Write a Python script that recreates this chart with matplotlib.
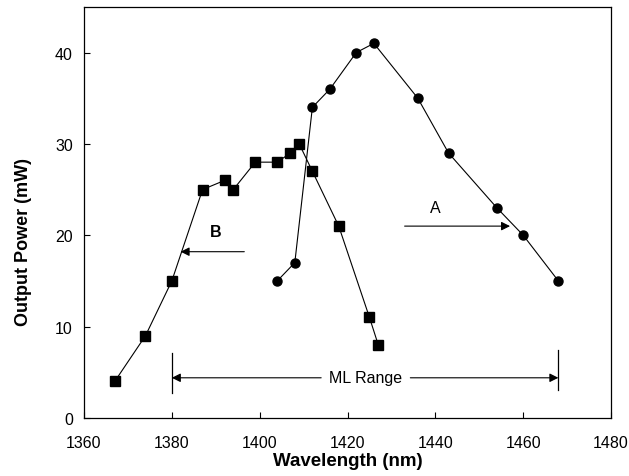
import numpy as np
import matplotlib
matplotlib.use("Agg")
import matplotlib.pyplot as plt

plt.rcParams['font.family'] = ['Liberation Sans', 'DejaVu Sans']

# Series A (circles)
wl_a = [1404, 1408, 1412, 1416, 1422, 1426, 1436, 1443, 1454, 1460, 1468]
pw_a = [15, 17, 34, 36, 40, 41, 35, 29, 23, 20, 15]

# Series B (squares)
wl_b = [1367, 1374, 1380, 1387, 1392, 1394, 1399, 1404, 1407, 1409, 1412, 1418, 1425, 1427]
pw_b = [4, 9, 15, 25, 26, 25, 28, 28, 29, 30, 27, 21, 11, 8]

x_ticks = [1360, 1380, 1400, 1420, 1440, 1460, 1480]
y_ticks = [0, 10, 20, 30, 40]

ml_start, ml_end = 1380, 1468

fig = plt.figure(figsize=(6.29, 4.77), dpi=100)
ax = fig.add_axes([0.1335, 0.1216, 0.838, 0.862])

ax.plot(wl_a, pw_a, color='black', lw=0.8, marker='o', markersize=6.5)
ax.plot(wl_b, pw_b, color='black', lw=0.8, marker='s', markersize=6.5)

ax.set_xlim(1360, 1480)
ax.set_ylim(0, 45)
ax.set_xticks(x_ticks)
ax.set_yticks(y_ticks)
ax.tick_params(direction='in', length=4, width=0.8, labelsize=11.5)
ax.tick_params(axis='x', pad=12)
ax.tick_params(axis='y', pad=8)
for s in ax.spines.values():
    s.set_linewidth(0.9)

ax.set_xlabel('Wavelength (nm)', fontsize=13.5, fontweight='bold')
ax.set_ylabel('Output Power (mW)', fontsize=13, fontweight='bold')
ax.xaxis.set_label_coords(0.5, -0.083)
ax.yaxis.set_label_coords(-0.099, 0.43)

arrow = dict(arrowstyle='-|>', color='black', lw=0.8, mutation_scale=13, shrinkA=0, shrinkB=0)

# A annotation
ax.text(1440, 23, 'A', fontsize=11.5, ha='center', va='center')
ax.annotate('', xy=(1457, 21), xytext=(1433, 21), arrowprops=arrow)

# B annotation
ax.text(1390, 20.4, 'B', fontsize=11.5, fontweight='bold', ha='center', va='center')
ax.annotate('', xy=(1382, 18.2), xytext=(1396.5, 18.2), arrowprops=arrow)

# ML range
ax.plot([ml_start, ml_start], [2.7, 7.1], color='black', lw=0.9)
ax.plot([ml_end, ml_end], [3.1, 7.4], color='black', lw=0.9)
ax.text(1424, 4.4, 'ML Range', fontsize=11.5, ha='center', va='center')
ax.annotate('', xy=(ml_start, 4.4), xytext=(1414, 4.4), arrowprops=arrow)
ax.annotate('', xy=(ml_end, 4.4), xytext=(1434.3, 4.4), arrowprops=arrow)

fig.savefig('out.png', dpi=100)
